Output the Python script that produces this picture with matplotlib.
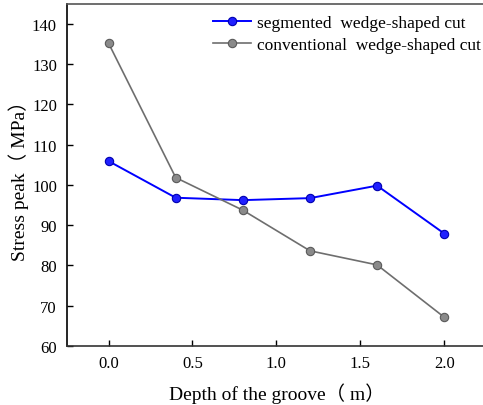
import matplotlib
matplotlib.use('Agg')
import matplotlib.pyplot as plt

plt.rcParams['font.family'] = ['Liberation Serif', 'Noto Sans CJK TC', 'DejaVu Sans']

depth = [0.0, 0.4, 0.8, 1.2, 1.6, 2.0]
segmented = [105.9, 96.8, 96.2, 96.7, 99.8, 87.9]
conventional = [135.2, 101.8, 93.7, 83.6, 80.1, 67.1]
labels = ['segmented  wedge-shaped cut', 'conventional  wedge-shaped cut']

fig = plt.figure(figsize=(4.83, 4.06), dpi=100)
ax = fig.add_axes([0.138, 0.146, 0.8685, 0.842])

ax.plot(depth, segmented, color='#0000ff', lw=1.4, marker='o', ms=6,
        mfc='#2020ff', mec='#0000b0', mew=0.8, label=labels[0])
ax.plot(depth, conventional, color='#6e6e6e', lw=1.2, marker='o', ms=6,
        mfc='#8a8a8a', mec='#5a5a5a', mew=0.8, label=labels[1])

ax.set_xlim(-0.25, 2.25)
ax.set_ylim(60, 145)
ax.set_xticks([0.0, 0.5, 1.0, 1.5, 2.0])
ax.set_xticklabels(['0.0', '0.5', '1.0', '1.5', '2.0'])
ax.set_yticks(range(60, 141, 10))
ax.tick_params(direction='in', labelsize=12, length=4, width=1, pad=7)

ax.spines['left'].set_linewidth(1.2)
ax.spines['bottom'].set_linewidth(1.2)
ax.spines['top'].set_linewidth(1.2)
ax.spines['top'].set_color('#555555')
ax.spines['bottom'].set_color('#333333')

ax.set_xlabel('Depth of the groove（ m）', fontsize=14, labelpad=8)
ax.set_ylabel('Stress peak（ MPa）', fontsize=14, labelpad=2)

ax.legend(loc='upper left', bbox_to_anchor=(0.44, 0.96), bbox_transform=fig.transFigure,
          frameon=False, fontsize=12.5, handlelength=2.2, handletextpad=0.35,
          labelspacing=0.3, borderpad=0, borderaxespad=0)

fig.savefig('out.png', dpi=100)
